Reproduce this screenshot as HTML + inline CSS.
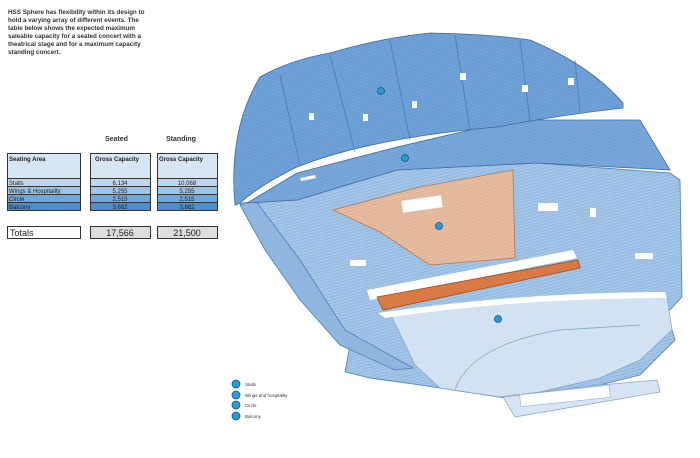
<!DOCTYPE html>
<html><head><style>
body{margin:0;width:700px;height:453px;background:#fff;overflow:hidden;font-family:"Liberation Sans",sans-serif}
</style></head><body>
<svg width="700" height="453" xmlns="http://www.w3.org/2000/svg" font-family="Liberation Sans, sans-serif">
<defs>
<pattern id="st" width="3" height="3" patternUnits="userSpaceOnUse" patternTransform="rotate(-15)">
<line x1="0" y1="0.5" x2="3" y2="0.5" stroke="#2f5f95" stroke-width="0.5" opacity="0.25"/>
</pattern>
</defs>
<g font-size="6.3" font-weight="bold" fill="#333">
<text x="8" y="14">HSS Sphere has flexibility within its design to</text>
<text x="8" y="22">hold a varying array of different events. The</text>
<text x="8" y="30">table below shows the expected maximum</text>
<text x="8" y="38">saleable capacity for a seated concert with a</text>
<text x="8" y="46">theatrical stage and for a maximum capacity</text>
<text x="8" y="54">standing concert.</text>
</g>
<g font-size="7" font-weight="bold" fill="#333"><text x="105" y="141">Seated</text><text x="166" y="141">Standing</text></g>
<g stroke="#333" stroke-width="1">
<rect x="7.5" y="153.5" width="73" height="25" fill="#d6e6f4"/>
<rect x="7.5" y="178.5" width="73" height="8" fill="#bdd7ee"/>
<rect x="7.5" y="186.5" width="73" height="8" fill="#9dc3e6"/>
<rect x="7.5" y="194.5" width="73" height="8" fill="#6fa8dc"/>
<rect x="7.5" y="202.5" width="73" height="8" fill="#4a8fd0"/>
<rect x="90.5" y="153.5" width="60" height="25" fill="#d6e6f4"/>
<rect x="90.5" y="178.5" width="60" height="8" fill="#bdd7ee"/>
<rect x="90.5" y="186.5" width="60" height="8" fill="#9dc3e6"/>
<rect x="90.5" y="194.5" width="60" height="8" fill="#6fa8dc"/>
<rect x="90.5" y="202.5" width="60" height="8" fill="#4a8fd0"/>
<rect x="157.5" y="153.5" width="60" height="25" fill="#d6e6f4"/>
<rect x="157.5" y="178.5" width="60" height="8" fill="#bdd7ee"/>
<rect x="157.5" y="186.5" width="60" height="8" fill="#9dc3e6"/>
<rect x="157.5" y="194.5" width="60" height="8" fill="#6fa8dc"/>
<rect x="157.5" y="202.5" width="60" height="8" fill="#4a8fd0"/>
<rect x="7.5" y="226.5" width="73" height="12" fill="#fff"/>
<rect x="90.5" y="226.5" width="60" height="12" fill="#ddd"/>
<rect x="157.5" y="226.5" width="60" height="12" fill="#ddd"/>
</g>
<g font-size="6" fill="#222">
<text x="9" y="161" font-weight="bold">Seating Area</text>
<text x="95" y="161" font-weight="bold">Gross Capacity</text>
<text x="159" y="161" font-weight="bold">Gross Capacity</text>
<text x="9" y="185">Stalls</text><text x="9" y="193">Wings &amp; Hospitality</text><text x="9" y="201">Circle</text><text x="9" y="209">Balcony</text>
<g text-anchor="middle"><text x="120" y="185">6,134</text><text x="120" y="193">5,255</text><text x="120" y="201">2,515</text><text x="120" y="209">3,662</text>
<text x="187" y="185">10,068</text><text x="187" y="193">5,255</text><text x="187" y="201">2,515</text><text x="187" y="209">3,662</text></g>
</g>
<g font-size="9" fill="#222"><text x="10" y="236">Totals</text><text x="120" y="236" text-anchor="middle">17,566</text><text x="187" y="236" text-anchor="middle">21,500</text></g>

<!-- lower bowl -->
<path d="M240,203 L297,200 L397,170 L537,163 L670,173 L680,180 L682,297 L667,313 L675,340 L640,375 L600,385 L505,398 L420,385 L370,378 L345,372 L350,345 L330,330 L300,290 L265,245 Z" fill="#a2c5e8" stroke="#4f7fb3" stroke-width="0.8"/>
<path d="M240,203 L297,200 L397,170 L537,163 L670,173 L680,180 L682,297 L667,313 L675,340 L640,375 L600,385 L505,398 L420,385 L370,378 L345,372 L350,345 L330,330 L300,290 L265,245 Z" fill="url(#st)"/>
<!-- floor -->
<path d="M390,313 Q520,290 667,297 L672,330 L640,360 L600,378 L540,392 L500,397 L440,388 L415,365 Z" fill="#d2e2f3" stroke="#7fa3c8" stroke-width="0.7"/>
<path d="M455,390 Q470,345 560,330 L640,325" fill="none" stroke="#7fa3c8" stroke-width="0.7"/>
<path d="M503,397 L600,385 L657,380 L660,392 L515,417 Z" fill="#d6e4f3" stroke="#7fa3c8" stroke-width="0.7"/>
<rect x="520" y="390" width="90" height="12" fill="#fff" stroke="#8fb0d0" stroke-width="0.6" transform="rotate(-6 565 396)"/>
<!-- left wing -->
<path d="M240,205 L255,200 L300,260 L345,330 L413,368 L395,370 L340,345 L300,300 L265,250 Z" fill="#8fb6df" stroke="#4f7fb3" stroke-width="0.8"/>
<!-- white bands -->
<path d="M367,290 L573,250 L577,258 L370,300 Z" fill="#fff"/>
<path d="M378,313 Q520,292 665,292 L667,298 Q520,298 385,318 Z" fill="#fff"/>
<!-- stage pale orange -->
<path d="M333,210 L420,187 L513,170 L515,258 L430,265 L380,232 Z" fill="#e9bb9c" stroke="#b07a5a" stroke-width="0.8"/>
<path d="M333,210 L420,187 L513,170 L515,258 L430,265 L380,232 Z" fill="url(#st)" opacity="0.6"/>
<rect x="402" y="198" width="40" height="12" fill="#fff" transform="rotate(-8 422 204)"/>
<!-- orange strip -->
<path d="M377,297 L578,260 L580,268 L383,310 Z" fill="#d97a45" stroke="#9a4a20" stroke-width="0.8"/>
<!-- circle band -->
<path d="M247,203 L297,173 L397,147 L513,120 L640,120 L670,170 L537,163 L397,170 L297,200 Z" fill="#78a8db" stroke="#3a6ba3" stroke-width="0.8"/>
<path d="M247,203 L297,173 L397,147 L513,120 L640,120 L670,170 L537,163 L397,170 L297,200 Z" fill="url(#st)"/>
<path d="M300,178 L315,175 L316,178 L301,181 Z M475,126 L510,122 L510,125 L475,129 Z" fill="#fff"/>
<!-- balcony -->
<path d="M235,205 Q228,130 260,77 Q290,60 330,53 Q380,38 430,33 Q490,34 530,40 Q590,65 623,103 L623,108 Q560,115 497,127 Q440,132 397,140 Q340,150 297,167 Q260,185 240,203 Z" fill="#6ea2d8" stroke="#3a6ba3" stroke-width="0.8"/>
<path d="M235,205 Q228,130 260,77 Q290,60 330,53 Q380,38 430,33 Q490,34 530,40 Q590,65 623,103 L623,108 Q560,115 497,127 Q440,132 397,140 Q340,150 297,167 Q260,185 240,203 Z" fill="url(#st)"/>
<g stroke="#3f6fa5" stroke-width="1" opacity="0.6">
<line x1="280" y1="75" x2="300" y2="165"/><line x1="330" y1="55" x2="355" y2="152"/><line x1="390" y1="40" x2="410" y2="140"/><line x1="455" y1="35" x2="470" y2="130"/><line x1="520" y1="40" x2="530" y2="122"/><line x1="575" y1="60" x2="580" y2="112"/>
</g>
<g fill="#fff"><rect x="460" y="73" width="6" height="7"/><rect x="522" y="85" width="6" height="7"/><rect x="568" y="78" width="6" height="7"/><rect x="412" y="101" width="5" height="7"/><rect x="309" y="113" width="5" height="7"/><rect x="363" y="114" width="5" height="7"/></g>
<g fill="#fff"><rect x="538" y="203" width="20" height="8"/><rect x="350" y="260" width="16" height="6"/><rect x="635" y="253" width="18" height="6"/><rect x="590" y="208" width="6" height="9"/></g>
<g fill="#2a9ad6" stroke="#0a5a8a" stroke-width="0.8">
<circle cx="381" cy="91" r="3.5"/><circle cx="405" cy="158" r="3.5"/><circle cx="439" cy="226" r="3.5"/><circle cx="498" cy="319" r="3.5"/>
<circle cx="236" cy="384" r="4"/><circle cx="236" cy="395" r="4"/><circle cx="236" cy="405" r="4"/><circle cx="236" cy="416" r="4"/>
</g>
<g font-size="4.5" fill="#333"><text x="245" y="386">Stalls</text><text x="245" y="397">Wings and hospitality</text><text x="245" y="407">Circle</text><text x="245" y="418">Balcony</text></g>
</svg>
</body></html>
